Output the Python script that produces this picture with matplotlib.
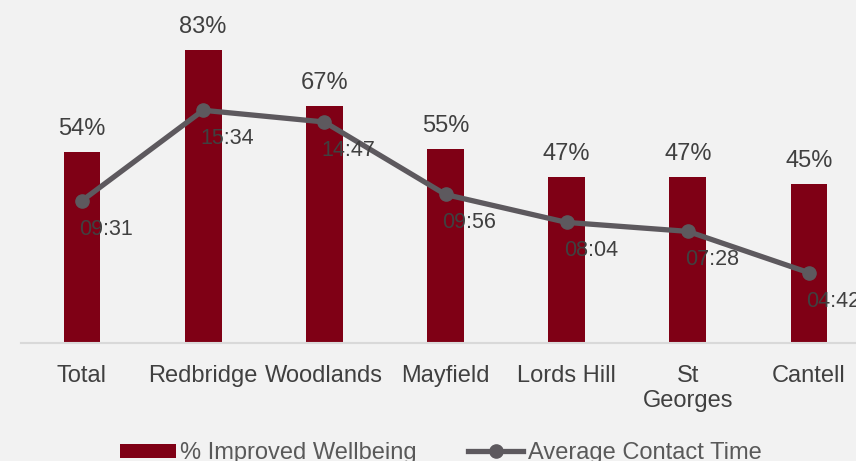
import matplotlib.pyplot as plt
import numpy as np

plt.rcParams['font.family'] = ['Liberation Sans', 'DejaVu Sans']

categories = ['Total', 'Redbridge', 'Woodlands', 'Mayfield', 'Lords Hill', 'St\nGeorges', 'Cantell']
wellbeing = [0.54, 0.83, 0.67, 0.55, 0.47, 0.47, 0.45]
contact_time = ['09:31', '15:34', '14:47', '09:56', '08:04', '07:28', '04:42']

# minutes as decimal for plotting
contact_minutes = [int(t.split(':')[0]) + int(t.split(':')[1]) / 60 for t in contact_time]

bg = '#F2F2F2'
bar_col = '#7F0015'
line_col = '#5D595E'
text_col = '#404040'

fig = plt.figure(figsize=(8.56, 4.61), dpi=100, facecolor=bg)
ax = fig.add_axes([21.4 / 856, 118 / 461, 848.2 / 856, 318 / 461])
ax.set_facecolor(bg)
x = np.arange(len(categories))

bars = ax.bar(x, wellbeing, 0.305, color=bar_col, label='% Improved Wellbeing', zorder=2)
ax.set_xlim(-0.5, len(categories) - 0.5)
ax.set_ylim(0, 0.9)
for xi, v in zip(x, wellbeing):
    ax.annotate(f'{v:.0%}', (xi, v), xytext=(0, 17), textcoords='offset pixels',
                ha='center', va='baseline', fontsize=17, color=text_col)

ax2 = ax.twinx()
ax2.set_ylim(0, 21.27)
line, = ax2.plot(x, contact_minutes, color=line_col, lw=3.8, marker='o', markersize=9.5,
                 label='Average Contact Time', zorder=3)
for xi, m, t in zip(x, contact_minutes, contact_time):
    ax2.annotate(t, (xi, m), xytext=(-3, -18), textcoords='offset pixels',
                 ha='left', va='top', fontsize=15.5, color=text_col)

for a in (ax, ax2):
    for s in a.spines.values():
        s.set_visible(False)
    a.set_yticks([])
ax.spines['bottom'].set_visible(True)
ax.spines['bottom'].set_color('#D9D9D9')
ax.spines['bottom'].set_linewidth(1.5)
ax.set_xticks(x)
ax.set_xticklabels(categories, fontsize=17, color=text_col, linespacing=1.15)
ax.tick_params(axis='x', length=0, pad=16)

fig.legend(handles=[bars, line], loc='center', bbox_to_anchor=(441 / 856, 8 / 461),
           ncol=2, frameon=False, fontsize=17, handlelength=2.35, handleheight=0.55,
           handletextpad=0.2, columnspacing=2.15, labelcolor='#595959')

fig.savefig('out.png', dpi=100, facecolor=bg)
